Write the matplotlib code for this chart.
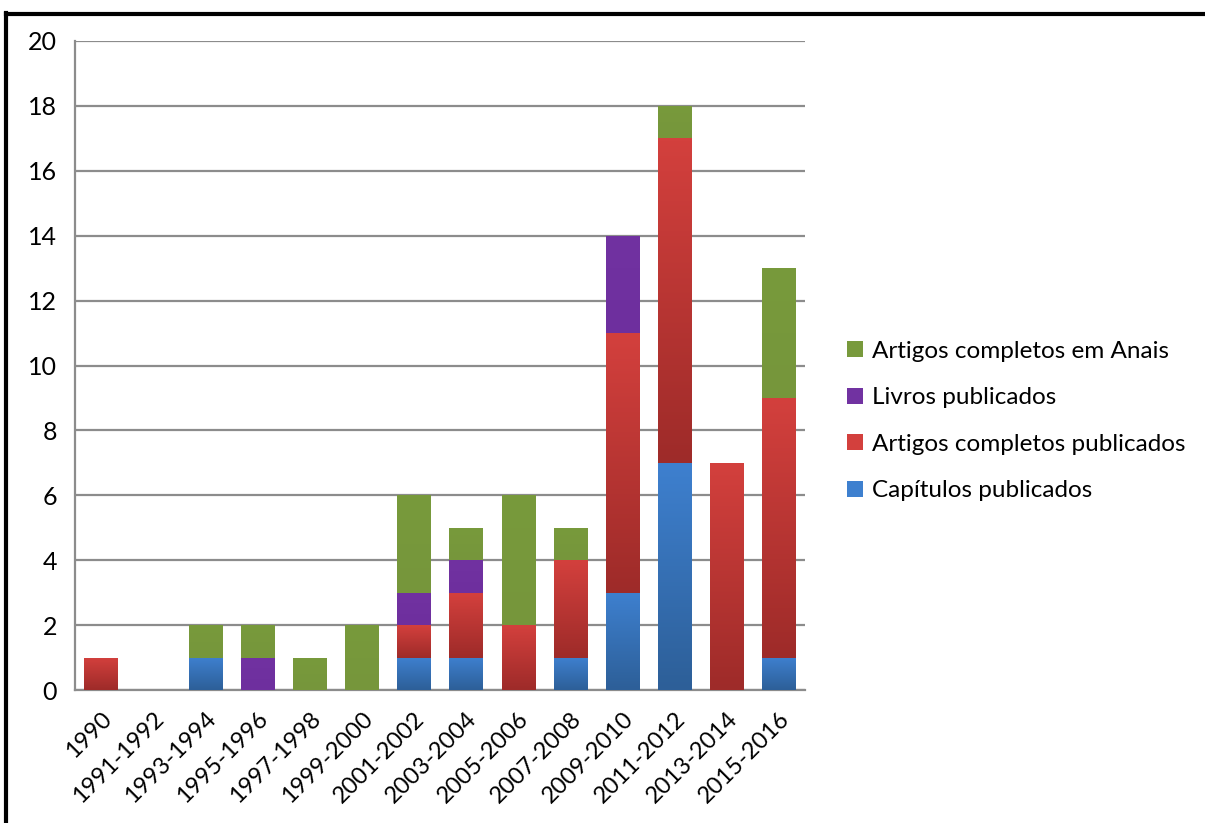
import numpy as np
import matplotlib
matplotlib.use('Agg')
import matplotlib.pyplot as plt
from matplotlib.colors import LinearSegmentedColormap
from matplotlib.lines import Line2D
from matplotlib.patches import Patch

plt.rcParams['font.family'] = ['Lato', 'DejaVu Sans']

# =============================================================================
# DATA
# =============================================================================

periods = ['1990', '1991-1992', '1993-1994', '1995-1996', '1997-1998', '1999-2000',
           '2001-2002', '2003-2004', '2005-2006', '2007-2008', '2009-2010',
           '2011-2012', '2013-2014', '2015-2016']

capitulos = [0, 0, 1, 0, 0, 0, 1, 1, 0, 1, 3, 7, 0, 1]
artigos_pub = [1, 0, 0, 0, 0, 0, 1, 2, 2, 3, 8, 10, 7, 8]
livros = [0, 0, 0, 1, 0, 0, 1, 1, 0, 0, 3, 0, 0, 0]
anais = [0, 0, 1, 1, 1, 2, 3, 1, 4, 1, 0, 1, 0, 4]

labels = ['Capítulos publicados', 'Artigos completos publicados',
          'Livros publicados', 'Artigos completos em Anais']

# =============================================================================
# PLOT
# =============================================================================

series = [capitulos, artigos_pub, livros, anais]
# (top colour, bottom colour) for each series
colors = [('#3e80cf', '#2d5f98'),
          ('#d3403d', '#9e2b29'),
          ('#7132a1', '#6e2f9e'),
          ('#789a3c', '#76963b')]

fig = plt.figure(figsize=(12.05, 8.23), dpi=100)
ax = fig.add_axes([75/1205, 1-690/823, 730/1205, 649/823])

x = np.arange(len(periods))
width = 0.64
bottom = np.zeros(len(periods))
grad = np.linspace(0, 1, 100).reshape(-1, 1)

for vals, (ctop, cbot) in zip(series, colors):
    vals = np.array(vals, dtype=float)
    bars = ax.bar(x, vals, width, bottom=bottom, color=ctop, linewidth=0, zorder=3)
    cmap = LinearSegmentedColormap.from_list('g', [cbot, ctop])
    for b, v in zip(bars, vals):
        if v <= 0:
            continue
        bx, by = b.get_x(), b.get_y()
        im = ax.imshow(grad, cmap=cmap, origin='lower', aspect='auto',
                       extent=[bx, bx + b.get_width(), by, by + b.get_height()],
                       zorder=3.5, interpolation='bicubic')
        im.set_clip_path(b)
    bottom += vals

ax.set_xlim(-0.5, len(periods) - 0.5)
ax.set_ylim(0, 20)
ax.set_yticks(np.arange(0, 21, 2))
ax.set_xticks(x)
ax.set_xticklabels(periods, rotation=45, ha='right', rotation_mode='anchor')
ax.tick_params(axis='both', length=0, colors='black')
ax.tick_params(axis='x', pad=13, labelsize=17)
ax.tick_params(axis='y', pad=13, labelsize=18)
ax.yaxis.grid(True, color='#8c8c8c', linewidth=1.6, zorder=0)
ax.set_axisbelow(True)
for s in ['top', 'right']:
    ax.spines[s].set_visible(False)
for s in ['left', 'bottom']:
    ax.spines[s].set_color('#8c8c8c')
    ax.spines[s].set_linewidth(1.6)

handles = [Patch(facecolor=c[0], edgecolor='none') for c in colors][::-1]
leg = fig.legend(handles, labels[::-1], loc='center left',
                 bbox_to_anchor=(825/1205, 1-421/823), frameon=False,
                 fontsize=17.5, handlelength=0.65, handleheight=0.65,
                 handletextpad=0.4, labelspacing=1.05)

# outer frame
fig.add_artist(Line2D([6/1205, 6/1205], [0, 1-13/823], color='black',
                      linewidth=3, transform=fig.transFigure))
fig.add_artist(Line2D([6/1205, 1], [1-14/823, 1-14/823], color='black',
                      linewidth=3, transform=fig.transFigure))

plt.savefig('out.png', dpi=100)
